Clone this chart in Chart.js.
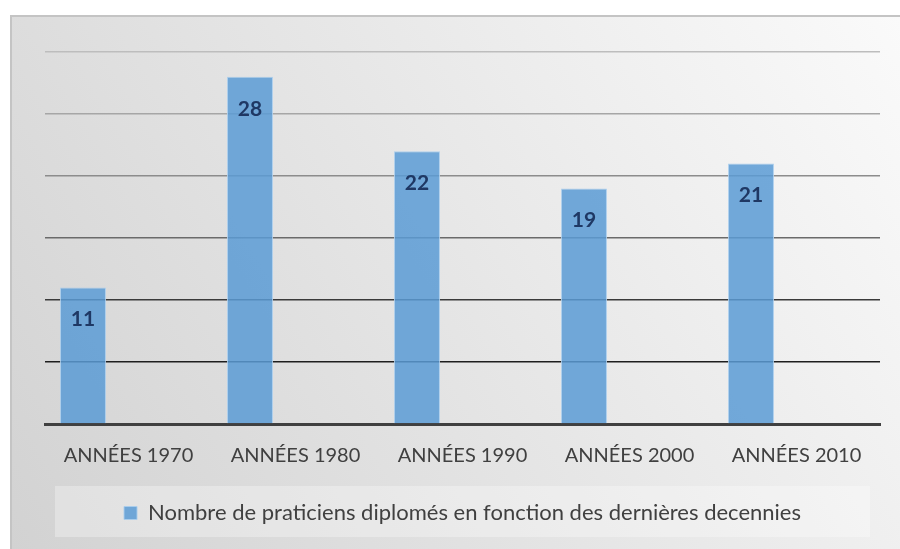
<!DOCTYPE html>
<html>
<head>
<meta charset="utf-8">
<script src="https://cdn.jsdelivr.net/npm/chart.js@4/dist/chart.umd.min.js"></script>
<style>
  html, body { margin: 0; padding: 0; background: #ffffff; }
  #wrap { width: 900px; height: 549px; }
</style>
</head>
<body>
<div id="wrap"><canvas id="chart" width="900" height="549"></canvas></div>
<script>
	// data
	var decades = ['ANNÉES 1970', 'ANNÉES 1980', 'ANNÉES 1990', 'ANNÉES 2000', 'ANNÉES 2010'];
	var praticiens = [11, 28, 22, 19, 21];
	var spacer = [null, null, null, null, null]; // empty second series, keeps bars on the left of each slot
	var seriesLabel = 'Nombre de praticiens diplomés en fonction des dernières decennies';

	var gridColors = { 0: 'rgba(0,0,0,0)', 5: '#1e1e1e', 10: '#3a3a3a', 15: '#6a6a6a', 20: '#8c8c8c', 25: '#a6a6a6', 30: '#bdbdbd' };

	var backgroundPlugin = {
		id: 'bgPanel',
		beforeDraw: function (chart) {
			var ctx = chart.ctx;
			var w = chart.width, h = chart.height;
			ctx.save();
			ctx.fillStyle = '#ffffff';
			ctx.fillRect(0, 0, w, h);
			var g = ctx.createLinearGradient(w, 15, 10, h);
			g.addColorStop(0, '#fafafa');
			g.addColorStop(0.5, '#e6e6e6');
			g.addColorStop(1, '#d2d2d2');
			ctx.fillStyle = g;
			ctx.fillRect(10, 15, w - 10, h - 15);
			ctx.strokeStyle = '#c4c4c4';
			ctx.lineWidth = 2;
			ctx.beginPath();
			ctx.moveTo(11, h);
			ctx.lineTo(11, 16);
			ctx.lineTo(w, 16);
			ctx.stroke();
			// legend panel
			var lg = chart.legend;
			if (lg) {
				var cy = (lg.top + lg.bottom) / 2;
				ctx.fillStyle = 'rgba(255,255,255,0.3)';
				ctx.fillRect(55, cy - 25, 815, 51);
			}
			ctx.restore();
		}
	};

	var valueLabels = {
		id: 'valueLabels',
		afterDatasetsDraw: function (chart) {
			var ctx = chart.ctx;
			var meta = chart.getDatasetMeta(0);
			ctx.save();
			ctx.font = 'bold 21px Lato, sans-serif';
			ctx.fillStyle = '#1f3864';
			ctx.textAlign = 'center';
			ctx.textBaseline = 'middle';
			meta.data.forEach(function (bar, i) {
				ctx.fillText(String(praticiens[i]), bar.x, bar.y + 32);
			});
			ctx.restore();
		}
	};

	var config = {
		type: 'bar',
		data: {
			labels: decades,
			datasets: [{
				label: seriesLabel,
				data: praticiens,
				backgroundColor: 'rgba(91,155,213,0.85)',
				borderColor: 'rgba(170,205,236,0.9)',
				borderWidth: 1,
				categoryPercentage: 1.09,
				barPercentage: 0.505
			}, {
				label: 'spacer',
				data: spacer,
				backgroundColor: 'rgba(0,0,0,0)',
				categoryPercentage: 1.09,
				barPercentage: 0.505
			}]
		},
		options: {
			responsive: false,
			animation: false,
			layout: { padding: { left: 45, right: 20, top: 52, bottom: 15 } },
			scales: {
				x: {
					grid: { display: false, drawTicks: false },
					border: { display: true, color: '#404040', width: 3 },
					ticks: { color: '#404040', font: { family: 'Lato', size: 20 }, padding: 20, maxRotation: 0 }
				},
				y: {
					min: 0,
					max: 30,
					ticks: { display: false, stepSize: 5 },
					border: { display: false },
					grid: {
						drawTicks: false,
						lineWidth: 1.5,
						color: function (c) { return gridColors[c.tick.value] || '#999'; }
					}
				}
			},
			plugins: {
				legend: {
					position: 'bottom',
					labels: {
						color: '#404040',
						font: { family: 'Lato', size: 22 },
						boxWidth: 13,
						boxHeight: 13,
						padding: 14,
						filter: function (item) { return item.datasetIndex === 0; }
					}
				},
				tooltip: { enabled: false }
			}
		},
		plugins: [backgroundPlugin, valueLabels]
	};

	new Chart(document.getElementById('chart').getContext('2d'), config);
</script>
</body>
</html>
